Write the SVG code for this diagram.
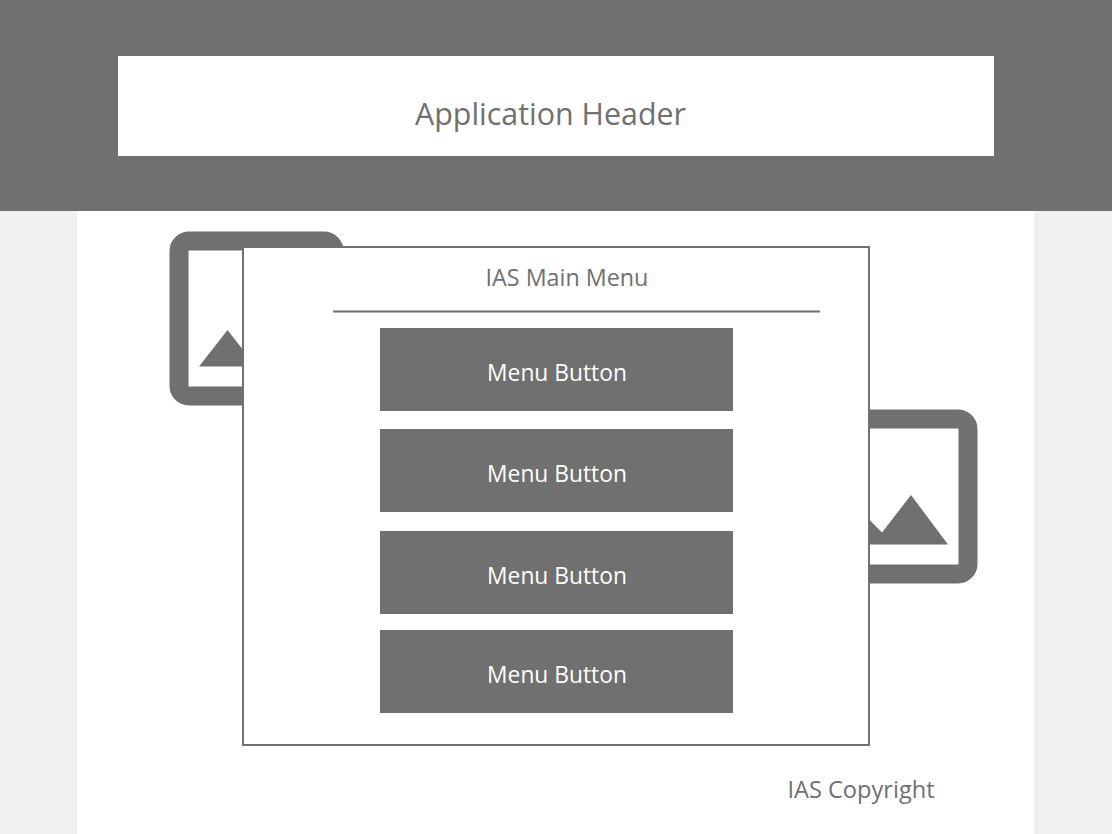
<svg xmlns="http://www.w3.org/2000/svg" width="1112" height="834" viewBox="0 0 1112 834">
<style>
text{font-family:"Open Sans","Noto Sans","Liberation Sans",sans-serif;text-anchor:middle}
.g{fill:#707070}
.w{fill:#fff}
.btn{fill:#707070}
.bt{fill:#fff;font-size:22.8px}
.fr{fill:#fff;stroke:#707070;stroke-width:19}
</style>
<rect width="1112" height="834" fill="#f0f0f0"/>
<rect x="77" y="200" width="957" height="634" fill="#fff"/>
<rect width="1112" height="211" class="g"/>
<g id="header"><rect x="118" y="56" width="876" height="100" class="w"/><text x="550.500" y="125" font-size="30.400" class="g">Application Header</text></g>
<g id="image-left"><rect x="179" y="241" width="155" height="155" rx="10" class="fr"/><polygon points="199,366.500 227.500,330 256,366.500" class="g"/></g>
<g id="image-right"><rect x="813" y="419" width="155" height="155" rx="10" class="fr"/><polygon points="850,544.500 850,500 882,532.500 911,495 948,544.500" class="g"/></g>
<g id="menu"><rect x="243" y="247" width="626" height="498" fill="#fff" stroke="#707070" stroke-width="2"/>
<text x="567" y="286" font-size="23.300" class="g">IAS Main Menu</text>
<line x1="333" y1="311.500" x2="820" y2="311.500" stroke="#707070" stroke-width="2"/></g>
<g id="button-1"><rect x="380" y="328" width="353" height="83" class="btn"/><text x="557" y="381" class="bt">Menu Button</text></g>
<g id="button-2"><rect x="380" y="429" width="353" height="83" class="btn"/><text x="557" y="482" class="bt">Menu Button</text></g>
<g id="button-3"><rect x="380" y="531" width="353" height="83" class="btn"/><text x="557" y="584" class="bt">Menu Button</text></g>
<g id="button-4"><rect x="380" y="630" width="353" height="83" class="btn"/><text x="557" y="683" class="bt">Menu Button</text></g>
<g id="copyright"><text x="861" y="798" font-size="23.600" class="g">IAS Copyright</text></g>
</svg>
